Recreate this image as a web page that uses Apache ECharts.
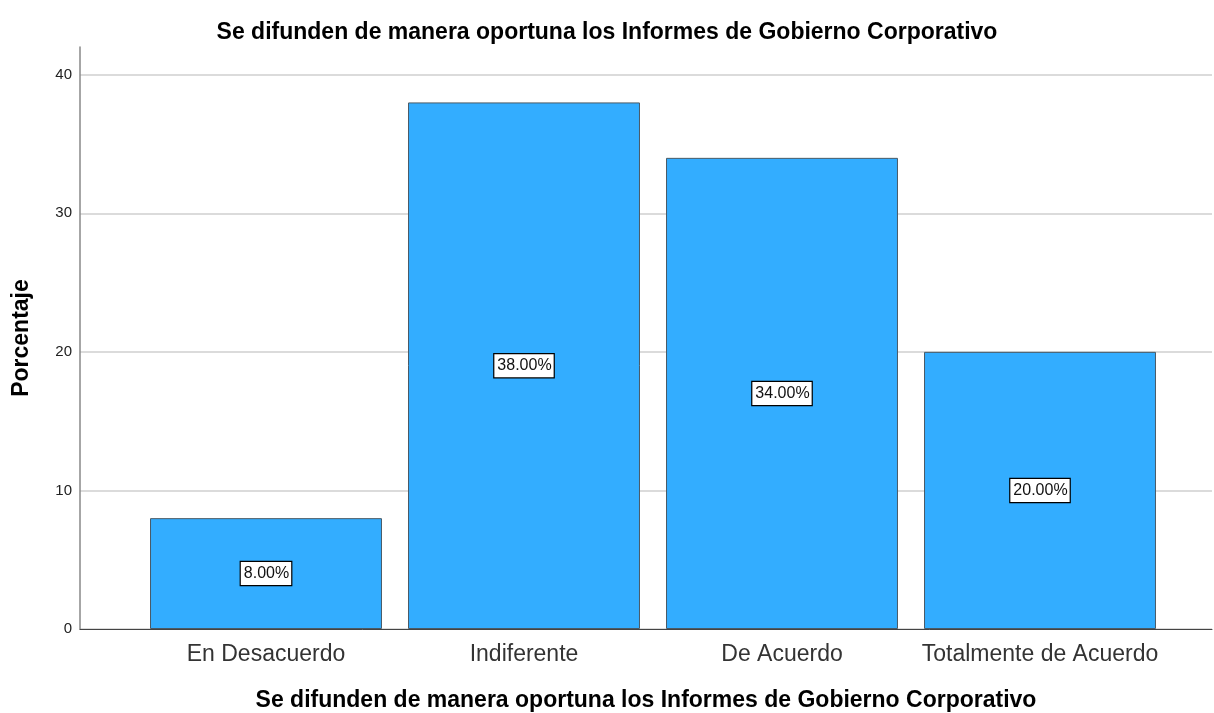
<!DOCTYPE html>
<html><head><meta charset="utf-8">
<script src="https://cdn.jsdelivr.net/npm/echarts@6/dist/echarts.min.js"></script>
<style>html,body{margin:0;padding:0;background:#fff}#c{width:1214px;height:713px}</style>
</head><body><div id="c"></div>
<script>
const categories = ['En Desacuerdo', 'Indiferente', 'De Acuerdo', 'Totalmente de Acuerdo'];
const values = [8, 38, 34, 20];
const yTicks = [0, 10, 20, 30, 40];
const titleText = 'Se difunden de manera oportuna los Informes de Gobierno Corporativo';

const chart = echarts.init(document.getElementById('c'));
const FONT = '"Liberation Sans", Arial, sans-serif';
chart.setOption({
  animation: false,
  title: {
    text: titleText, left: 'center', top: 16,
    textStyle: { fontFamily: FONT, fontSize: 23, fontWeight: 'bold', color: '#000' }
  },
  grid: [
    { left: 80, right: 2, top: 47, bottom: 84, outerBoundsMode: 'none', containLabel: false },
    { left: 137, right: 45, top: 47, bottom: 84, outerBoundsMode: 'none', containLabel: false }
  ],
  xAxis: [
    { gridIndex: 0, type: 'value', min: 0, max: 1,
      axisLine: { show: true, lineStyle: { color: '#444', width: 1 } },
      axisTick: { show: false }, axisLabel: { show: false }, splitLine: { show: false },
      name: titleText, nameLocation: 'middle', nameGap: 60,
      nameTextStyle: { fontFamily: FONT, fontSize: 23, fontWeight: 'bold', color: '#000' } },
    { gridIndex: 1, type: 'category', data: categories,
      axisLine: { show: false }, axisTick: { show: false },
      axisLabel: { interval: 0, hideOverlap: false, margin: 14, fontFamily: FONT, fontSize: 23, color: '#333' } }
  ],
  yAxis: [
    { gridIndex: 0, type: 'value', min: yTicks[0], max: 42, interval: 10,
      axisLine: { show: true, lineStyle: { color: '#888', width: 1.5 } },
      axisTick: { show: false },
      axisLabel: { showMaxLabel: false, margin: 8, fontFamily: FONT, fontSize: 15, color: '#222',
        formatter: v => yTicks.includes(v) ? String(v) : '' },
      splitLine: { show: true, showMaxLine: false, lineStyle: { color: '#cfcfcf', width: 1.5 } },
      name: 'Porcentaje', nameLocation: 'middle', nameGap: 47,
      nameTextStyle: { fontFamily: FONT, fontSize: 23, fontWeight: 'bold', color: '#000' } },
    { gridIndex: 1, type: 'value', min: 0, max: 42, interval: 10, show: false,
      splitLine: { show: false } }
  ],
  series: [{
    type: 'bar', xAxisIndex: 1, yAxisIndex: 1, data: values,
    barCategoryGap: '10.1%',
    itemStyle: { color: '#33adff', borderColor: '#4a5a66', borderWidth: 1 },
    label: {
      show: true, position: 'inside',
      formatter: p => p.value.toFixed(2) + '%',
      fontFamily: FONT, fontSize: 16, color: '#111',
      backgroundColor: '#fff', borderColor: '#000', borderWidth: 1.2, padding: [4, 2, 3, 3]
    }
  }]
});
</script></body></html>
